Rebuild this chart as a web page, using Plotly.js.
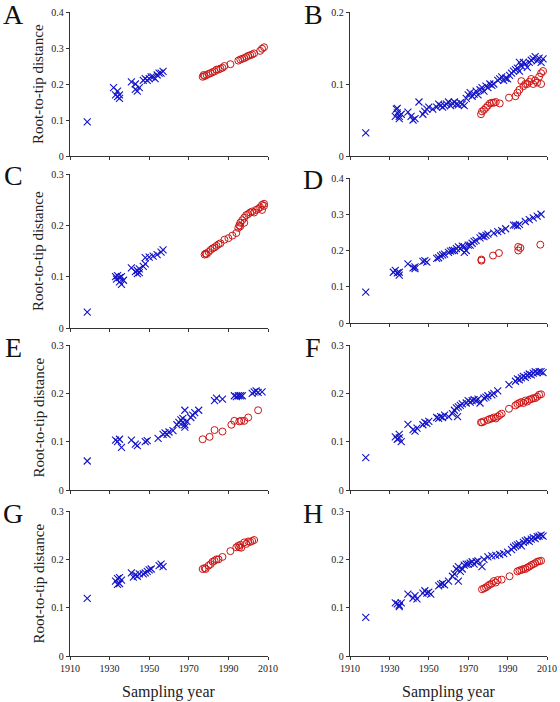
<!DOCTYPE html>
<html>
<head>
<meta charset="utf-8">
<script src="https://cdn.plot.ly/plotly-3.0.1.min.js"></script>
<style>html,body{margin:0;padding:0;background:#fff;}#chart{width:560px;height:702px;}</style>
</head>
<body>
<div id="chart"></div>
<script>
// ---- Data ----
const panelLabels = ["A","B","C","D","E","F","G","H"];
const yMax = [0.4, 0.2, 0.3, 0.4, 0.3, 0.3, 0.3, 0.3];
const xTickVals = [1910, 1930, 1950, 1970, 1990, 2010];

const aBlueYear = [1918.7,1932,1933,1934,1935,1935,1934,1941,1943,1943,1944,1945,1947,1948,1949,1950,1951,1952,1953,1954,1955,1956,1957];
const aBlueDist = [0.095,0.19,0.17,0.165,0.17,0.16,0.18,0.206,0.2,0.185,0.18,0.19,0.21,0.215,0.21,0.215,0.22,0.22,0.215,0.225,0.23,0.23,0.235];
const aRedYear = [1977,1977.5,1978,1979,1980,1981,1982,1983,1984,1985,1986,1987,1988,1991,1995,1996,1997,1998,1999,2000,2001,2002,2003,2006,2007,2008];
const aRedDist = [0.22,0.225,0.222,0.225,0.228,0.23,0.233,0.235,0.24,0.24,0.243,0.245,0.25,0.255,0.265,0.268,0.27,0.272,0.275,0.278,0.28,0.282,0.285,0.292,0.298,0.302];

const bBlueYear = [1918,1933,1933.5,1934,1935,1935,1936,1934,1939.4,1941,1942,1943,1945,1947,1948,1949,1950,1952,1954,1955,1956,1957,1958,1959,1960,1961,1962,1963,1964,1965,1966,1967,1968,1969,1970,1971,1972,1973,1974,1975,1976,1977,1978,1979,1980,1981,1982,1983,1985,1986,1987,1988,1989,1990,1991,1992,1993,1994,1995,1996,1997,1998,1999,2000,2001,2002,2003,2004,2005,2006,2007,2008,1996];
const bBlueDist = [0.032,0.055,0.065,0.06,0.055,0.052,0.058,0.066,0.061,0.055,0.05,0.052,0.075,0.058,0.062,0.065,0.068,0.065,0.068,0.072,0.07,0.068,0.07,0.072,0.075,0.07,0.073,0.075,0.072,0.071,0.074,0.072,0.07,0.08,0.085,0.088,0.083,0.086,0.09,0.085,0.092,0.095,0.09,0.097,0.095,0.1,0.098,0.1,0.105,0.107,0.11,0.105,0.108,0.107,0.112,0.115,0.118,0.12,0.122,0.118,0.125,0.13,0.128,0.123,0.13,0.133,0.135,0.138,0.132,0.136,0.13,0.135,0.13];
const bRedYear = [1976.5,1977,1978,1979,1980,1981,1982,1983,1984,1986,1990.7,1994,1995,1996,1997,1998,1999,2000,2001,2002,2003,2004,2005,2006,2007,2007,2008];
const bRedDist = [0.058,0.062,0.064,0.067,0.07,0.073,0.074,0.074,0.075,0.073,0.081,0.083,0.088,0.092,0.104,0.097,0.1,0.1,0.103,0.107,0.1,0.105,0.102,0.11,0.115,0.1,0.118];

const cBlueYear = [1918.7,1933,1933.5,1934,1935,1935,1936,1936,1937,1941,1943,1944,1944,1945,1945,1947,1948,1948,1950,1952,1954,1956,1957];
const cBlueDist = [0.031,0.1,0.095,0.102,0.098,0.09,0.085,0.1,0.093,0.117,0.11,0.112,0.106,0.115,0.108,0.12,0.137,0.125,0.138,0.14,0.143,0.148,0.152];
const cRedYear = [1978,1978.5,1979,1980,1981,1982,1983,1984,1985,1986,1988,1990,1992,1994,1995,1995.5,1996,1996,1997,1998,1998,1999,2000,2001,2002,2003,2004,2005,2006,2007,2007,2008,2008];
const cRedDist = [0.143,0.145,0.144,0.148,0.152,0.155,0.157,0.16,0.163,0.165,0.172,0.175,0.18,0.185,0.195,0.2,0.205,0.198,0.21,0.205,0.215,0.22,0.222,0.225,0.227,0.225,0.23,0.232,0.235,0.24,0.23,0.238,0.242];

const dBlueYear = [1918,1932,1933,1934,1935,1935,1939.4,1942,1943,1943,1947,1948,1949,1954,1955,1956,1957,1958,1960,1961,1962,1963,1964,1965,1966,1967,1968,1969,1970,1971,1972,1973,1974,1968,1976,1977,1978,1979,1980,1983,1985,1987,1989,1993,1994,1995,1996,1999,2001,2003,2005,2007];
const dBlueDist = [0.085,0.14,0.145,0.138,0.132,0.14,0.163,0.152,0.155,0.15,0.17,0.172,0.168,0.178,0.18,0.185,0.188,0.19,0.195,0.198,0.2,0.2,0.205,0.21,0.205,0.212,0.21,0.2,0.215,0.215,0.22,0.225,0.228,0.195,0.235,0.24,0.238,0.242,0.245,0.248,0.252,0.255,0.26,0.27,0.27,0.268,0.272,0.28,0.285,0.29,0.295,0.3];
const dRedYear = [1976.7,1976.7,1982.6,1985.6,1995.4,1995.4,1996.5,2006.6];
const dRedDist = [0.172,0.175,0.186,0.193,0.21,0.2,0.207,0.216];

const eBlueYear = [1918.7,1933,1934,1935,1936,1941,1943,1944,1948,1949,1954.5,1957,1958,1959,1960,1962,1964,1965,1966,1967,1968,1967,1968,1969,1968,1971,1972,1973,1975,1983,1984,1987,1993,1994,1995,1996,1997,2002,2003,2004,2005,2007];
const eBlueDist = [0.06,0.103,0.1,0.105,0.088,0.103,0.095,0.092,0.1,0.102,0.107,0.115,0.118,0.115,0.12,0.123,0.135,0.14,0.145,0.14,0.135,0.148,0.13,0.142,0.165,0.15,0.155,0.16,0.165,0.185,0.19,0.188,0.195,0.193,0.195,0.195,0.195,0.2,0.203,0.205,0.202,0.203];
const eRedYear = [1977,1980.5,1983,1987,1991.5,1993,1995.5,1996.5,1998,2000,2005];
const eRedDist = [0.105,0.11,0.124,0.121,0.135,0.143,0.142,0.143,0.143,0.15,0.165];

const fBlueYear = [1918,1933,1934,1935,1936,1935,1939.4,1942,1943,1944,1947,1948,1949,1950,1954,1955,1956,1957,1958,1960,1962,1964.6,1963,1964,1965,1966,1967,1969,1970,1971,1972,1973,1974,1975,1976,1978,1979,1980,1982,1983,1985,1990.7,1994,1995,1996,1997,1998,1999,2000,2001,2002,2003,2004,2005,2006,2007,2008];
const fBlueDist = [0.067,0.11,0.105,0.115,0.1,0.108,0.136,0.125,0.122,0.128,0.135,0.14,0.138,0.142,0.15,0.148,0.152,0.15,0.155,0.152,0.158,0.152,0.165,0.17,0.172,0.175,0.178,0.18,0.185,0.182,0.185,0.187,0.185,0.188,0.18,0.19,0.192,0.195,0.197,0.2,0.205,0.218,0.225,0.23,0.228,0.232,0.235,0.233,0.237,0.24,0.238,0.242,0.245,0.243,0.245,0.245,0.243];
const fRedYear = [1976.5,1977,1978,1980,1981,1982,1983,1984,1985,1986,1987,1990.7,1994,1995,1996,1997,1998,1999,2000,2001,2002,2003,2004,2005,2006,2007];
const fRedDist = [0.14,0.14,0.142,0.145,0.147,0.148,0.15,0.148,0.152,0.155,0.158,0.168,0.175,0.178,0.18,0.182,0.18,0.185,0.183,0.187,0.188,0.19,0.19,0.193,0.197,0.198];

const gBlueYear = [1918.7,1933,1934,1935,1936,1935,1934,1941,1943,1944,1945,1942,1947,1948,1949,1950,1951,1955,1956,1957];
const gBlueDist = [0.119,0.155,0.16,0.15,0.157,0.162,0.148,0.172,0.168,0.165,0.17,0.163,0.17,0.172,0.175,0.178,0.18,0.187,0.19,0.185];
const gRedYear = [1977,1978,1978.5,1980,1981,1982,1983,1984,1985,1987,1991,1994,1995,1995.5,1996,1996.5,1998,1999,2000,2001,2002,2003];
const gRedDist = [0.18,0.182,0.18,0.187,0.19,0.195,0.197,0.2,0.2,0.205,0.217,0.225,0.228,0.225,0.23,0.224,0.235,0.232,0.237,0.236,0.238,0.24];

const hBlueYear = [1918,1933,1934,1935,1936,1935,1939.4,1942,1943,1944,1947,1948,1949,1950,1951,1955,1956,1957,1958,1960,1962,1963,1964,1965,1966,1967,1965,1968,1969,1970,1971,1972,1973,1974,1975,1977,1978,1980,1982,1984,1986,1988,1990,1992,1993,1994,1995,1996,1997,1998,1999,2000,2001,2002,2003,2004,2005,2006,2007,2008];
const hBlueDist = [0.08,0.11,0.108,0.105,0.11,0.102,0.128,0.12,0.125,0.118,0.13,0.135,0.13,0.132,0.128,0.145,0.148,0.15,0.147,0.155,0.165,0.17,0.18,0.185,0.175,0.18,0.155,0.188,0.19,0.19,0.192,0.195,0.19,0.195,0.197,0.185,0.2,0.205,0.207,0.208,0.21,0.212,0.215,0.22,0.225,0.228,0.23,0.232,0.228,0.235,0.238,0.24,0.237,0.242,0.245,0.243,0.247,0.248,0.25,0.248];
const hRedYear = [1977,1978,1979,1980,1981,1982,1983,1984,1985,1987,1991,1995,1996,1997,1998,1999,2000,2001,2002,2003,2004,2005,2006,2007];
const hRedDist = [0.138,0.14,0.142,0.145,0.148,0.15,0.155,0.152,0.157,0.158,0.165,0.175,0.177,0.178,0.18,0.18,0.183,0.185,0.188,0.19,0.192,0.195,0.196,0.197];

const panels = [
  [aBlueYear,aBlueDist,aRedYear,aRedDist],
  [bBlueYear,bBlueDist,bRedYear,bRedDist],
  [cBlueYear,cBlueDist,cRedYear,cRedDist],
  [dBlueYear,dBlueDist,dRedYear,dRedDist],
  [eBlueYear,eBlueDist,eRedYear,eRedDist],
  [fBlueYear,fBlueDist,fRedYear,fRedDist],
  [gBlueYear,gBlueDist,gRedYear,gRedDist],
  [hBlueYear,hBlueDist,hRedYear,hRedDist]
];

// ---- Layout geometry (pixels) ----
const W = 560, H = 702;
const colX = [[70,268],[350,547]];
const rowY = [[12,156],[174,328],[345,490],[511,656]];
const rowYRight = [[12,156],[178,323],[345,490],[511,656]];
const BLUE = "rgb(20,20,200)";
const RED = "rgb(205,20,20)";
const AXC = "#333";
const FONT = "Liberation Serif";

const traces = [];
const layout = {
  width: W, height: H,
  margin: {l:0, r:0, t:0, b:0},
  paper_bgcolor: "#fff", plot_bgcolor: "#fff",
  showlegend: false,
  font: {family: FONT, color: "#222"},
  annotations: []
};

panels.forEach((p, i) => {
  const row = Math.floor(i / 2), col = i % 2;
  const n = i + 1;
  const xa = "x" + (n === 1 ? "" : n), ya = "y" + (n === 1 ? "" : n);
  traces.push({
    x: p[0], y: p[1], xaxis: xa, yaxis: ya, type: "scatter", mode: "markers",
    marker: {symbol: "x-thin-open", size: 7, color: BLUE, line: {color: BLUE, width: 1.1}},
    cliponaxis: false
  });
  traces.push({
    x: p[2], y: p[3], xaxis: xa, yaxis: ya, type: "scatter", mode: "markers",
    marker: {symbol: "circle-open", size: 7, color: RED, line: {color: RED, width: 1}},
    cliponaxis: false
  });
  const ry = col === 0 ? rowY[row] : rowYRight[row];
  const cx = colX[col];
  const xKey = "xaxis" + (n === 1 ? "" : n), yKey = "yaxis" + (n === 1 ? "" : n);
  layout[xKey] = {
    domain: [cx[0] / W, cx[1] / W], anchor: ya,
    range: [1910, 2010], tickvals: xTickVals, ticktext: xTickVals.map(String),
    showticklabels: row === 3, ticks: "outside", ticklen: 3, tickcolor: AXC,
    showline: true, linecolor: AXC, linewidth: 1.2, showgrid: false, zeroline: false,
    tickfont: {family: FONT, size: 10, color: "#222"}, fixedrange: true
  };
  layout[yKey] = {
    domain: [(H - ry[1]) / H, (H - ry[0]) / H], anchor: xa,
    range: [0, yMax[i]], dtick: 0.1, tick0: 0,
    ticks: "outside", ticklen: 3, tickcolor: AXC,
    showline: true, linecolor: AXC, linewidth: 1.2, showgrid: false, zeroline: false,
    tickfont: {family: FONT, size: 10, color: "#222"}, fixedrange: true
  };
  // panel letter
  layout.annotations.push({
    text: panelLabels[i], xref: "paper", yref: "paper",
    x: (col === 0 ? 13 : 313) / W, y: (H - (ry[0] + 2)) / H,
    xanchor: "center", yanchor: "middle", showarrow: false,
    font: {family: FONT, size: 28, color: "#111"}
  });
  if (col === 0) {
    layout.annotations.push({
      text: "Root-to-tip distance", xref: "paper", yref: "paper",
      x: 38 / W, y: (H - (ry[0] + ry[1]) / 2) / H, textangle: -90,
      xanchor: "center", yanchor: "middle", showarrow: false,
      font: {family: FONT, size: 15, color: "#222"}
    });
  }
  if (row === 3) {
    layout.annotations.push({
      text: "Sampling year", xref: "paper", yref: "paper",
      x: ((cx[0] + cx[1]) / 2) / W, y: (H - 692) / H,
      xanchor: "center", yanchor: "middle", showarrow: false,
      font: {family: FONT, size: 16, color: "#222"}
    });
  }
});

Plotly.newPlot("chart", traces, layout, {displayModeBar: false, staticPlot: true});
</script>
</body>
</html>
